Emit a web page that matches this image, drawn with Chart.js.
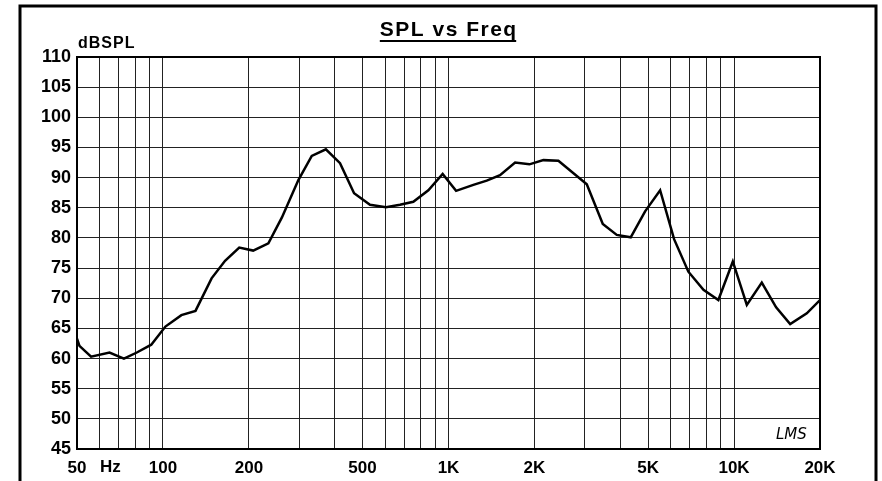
<!DOCTYPE html>
<html>
<head>
<meta charset="utf-8">
<script src="https://cdn.jsdelivr.net/npm/chart.js@4/dist/chart.umd.min.js"></script>
<style>
  html, body { margin: 0; padding: 0; background: #fff; }
  #wrap { width: 882px; height: 481px; }
</style>
</head>
<body>
<div id="wrap"><canvas id="splChart" width="882" height="481"></canvas></div>
<script>
// frequency response
const freqs = [50, 51, 56, 65, 73, 81, 91, 102, 116, 130, 148, 165, 185, 207, 234, 261,
    298, 332, 372, 417, 467, 531, 604, 676, 753, 850, 954, 1063, 1222, 1361, 1515, 1711,
    1920, 2150, 2426, 3050, 3470, 3884, 4347, 4881, 5510, 6166, 6919, 7815, 8812, 9902,
    11085, 12508, 14040, 15725, 17980, 20000];
const splValues = [63.3, 62.1, 60.3, 61.0, 60.0, 61.0, 62.3, 65.3, 67.2, 67.9, 73.3, 76.2,
    78.4, 77.9, 79.1, 83.4, 89.6, 93.6, 94.7, 92.4, 87.4, 85.5, 85.1, 85.5, 86.0, 87.9, 90.6,
    87.8, 88.8, 89.5, 90.4, 92.5, 92.2, 92.9, 92.8, 88.9, 82.3, 80.5, 80.1, 84.4, 87.9, 79.8,
    74.4, 71.4, 69.7, 76.1, 68.9, 72.6, 68.5, 65.7, 67.5, 69.7];

// vertical grid lines and the labelled ones
const gridFreqs = [50, 60, 70, 80, 90, 100, 200, 300, 400, 500, 600, 700, 800, 900,
    1000, 2000, 3000, 4000, 5000, 6000, 7000, 8000, 9000, 10000, 20000];
const labelFreqs = [50, 100, 200, 500, 1000, 2000, 5000, 10000, 20000];
const labelTexts = ['50', '100', '200', '500', '1K', '2K', '5K', '10K', '20K'];

const FONT = '"Liberation Sans", Arial, sans-serif';

const points = freqs.map((f, i) => ({ x: f, y: splValues[i] }));

// frame, title, unit labels, logo
const decor = {
    id: 'decor',
    afterDraw(chart) {
        const ctx = chart.ctx;
        const a = chart.chartArea;
        ctx.save();
        ctx.strokeStyle = '#000';

        // outer box
        ctx.lineWidth = 3;
        ctx.strokeRect(20, 6, 856, 500);

        // plot frame
        ctx.lineWidth = 2;
        ctx.strokeRect(a.left, a.top, a.right - a.left, a.bottom - a.top);

        ctx.fillStyle = '#000';
        ctx.textBaseline = 'alphabetic';
        ctx.textAlign = 'left';

        // title
        ctx.letterSpacing = '1.5px';
        ctx.font = 'bold 21px ' + FONT;
        const t = 'SPL vs Freq';
        const tw = ctx.measureText(t).width - 1.5;
        const tx = 448 - tw / 2;
        ctx.fillText(t, tx, 36);
        ctx.fillRect(tx, 40, tw, 2);

        // y unit
        ctx.letterSpacing = '1px';
        ctx.font = 'bold 16px ' + FONT;
        ctx.fillText('dBSPL', 78, 48);
        ctx.letterSpacing = '0px';

        // Hz next to 50
        ctx.font = 'bold 17px ' + FONT;
        const x50 = chart.scales.x.getPixelForValue(50);
        ctx.fillText('Hz', x50 + 23, 472);

        // LMS mark
        ctx.font = 'italic 15px "DejaVu Sans", sans-serif';
        ctx.fillText('LMS', 776, 439);
        ctx.restore();
    }
};

new Chart(document.getElementById('splChart'), {
    type: 'line',
    data: {
        datasets: [{
            data: points,
            borderColor: '#000',
            borderWidth: 2.5,
            pointRadius: 0,
            tension: 0,
            fill: false
        }]
    },
    options: {
        responsive: false,
        animation: false,
        layout: { padding: { left: 0, right: 62, top: 57, bottom: 0 } },
        plugins: {
            legend: { display: false },
            tooltip: { enabled: false }
        },
        scales: {
            x: {
                type: 'logarithmic',
                min: 50,
                max: 20000,
                afterBuildTicks: (scale) => {
                    scale.ticks = gridFreqs.map(v => ({ value: v }));
                },
                afterFit: (scale) => { scale.height = 32; },
                grid: { color: '#222', lineWidth: 1, drawTicks: false },
                border: { display: false },
                ticks: {
                    autoSkip: false,
                    maxRotation: 0,
                    padding: 9,
                    color: '#000',
                    font: { family: FONT, size: 17, weight: 'bold' }
                    ,
                    callback: (v) => {
                        const i = labelFreqs.indexOf(v);
                        return i >= 0 ? labelTexts[i] : '';
                    }
                }
            },
            y: {
                min: 45,
                max: 110,
                afterFit: (scale) => { scale.width = 77; },
                grid: { color: '#222', lineWidth: 1, drawTicks: false },
                border: { display: false },
                ticks: {
                    stepSize: 5,
                    padding: 6,
                    color: '#000',
                    font: { family: FONT, size: 18, weight: 'bold' }
                }
            }
        }
    },
    plugins: [decor]
});
</script>
</body>
</html>
